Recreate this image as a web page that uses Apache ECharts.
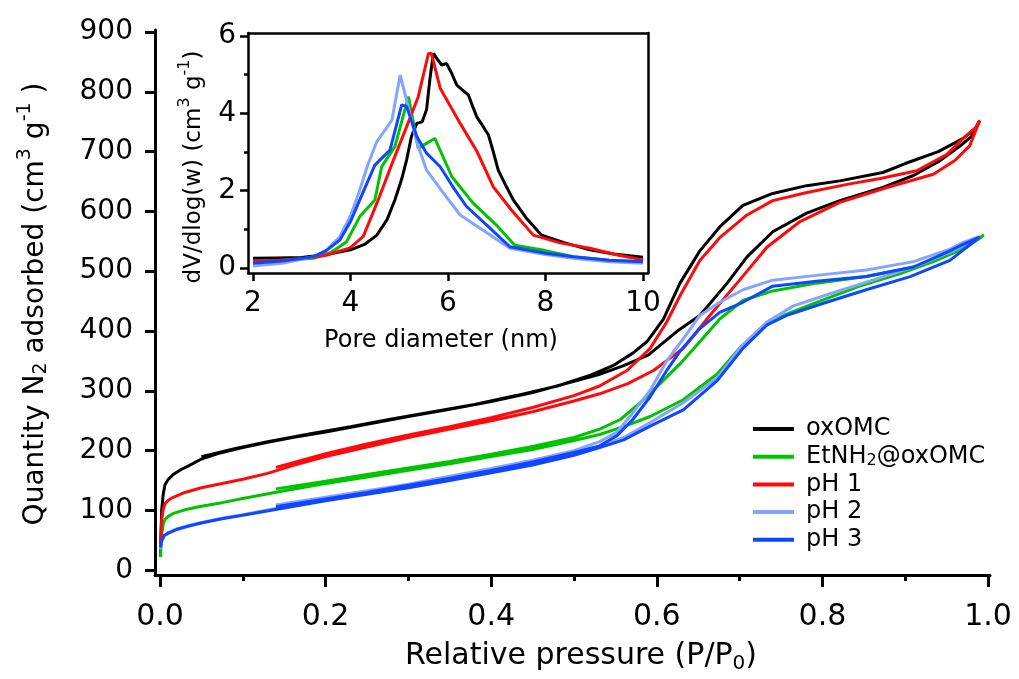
<!DOCTYPE html>
<html>
<head>
<meta charset="utf-8">
<script src="https://cdn.jsdelivr.net/npm/echarts@6/dist/echarts.min.js"></script>
<style>
  html, body { margin: 0; padding: 0; background: #fff; }
  #chart { width: 1019px; height: 679px; }
</style>
</head>
<body>
<div id="chart"></div>
<script>
// N2 sorption isotherms: adsorption branch followed by desorption branch, [P/P0, cm3 g-1]
const isoOxOMC = [
  [0.0005, 24], [0.002, 100], [0.004, 128], [0.006, 143], [0.01, 152], [0.016, 160], [0.025, 168],
  [0.035, 175], [0.05, 186], [0.07, 195], [0.1, 205], [0.13, 214], [0.16, 222], [0.2, 231], [0.25, 244],
  [0.3, 257], [0.35, 269], [0.4, 282], [0.45, 297], [0.5, 316], [0.53, 327], [0.56, 342], [0.59, 360],
  [0.624, 399], [0.652, 426], [0.685, 480], [0.709, 524], [0.74, 566], [0.781, 597], [0.821, 618],
  [0.873, 640], [0.91, 660], [0.94, 683], [0.965, 708], [0.98, 725], [0.99, 752],
  [0.985, 738], [0.97, 722], [0.94, 700], [0.9, 680], [0.873, 665], [0.821, 651], [0.781, 643],
  [0.74, 630], [0.704, 610], [0.676, 574], [0.652, 534], [0.628, 480], [0.608, 420], [0.588, 382],
  [0.571, 363], [0.547, 342], [0.52, 326], [0.48, 308], [0.43, 292], [0.38, 277], [0.33, 265],
  [0.28, 253], [0.23, 240], [0.18, 228], [0.13, 215], [0.09, 203], [0.05, 190]
];
const isoEtNH2 = [
  [0.0005, 22], [0.002, 60], [0.004, 78], [0.006, 85], [0.01, 90], [0.016, 95], [0.03, 101],
  [0.05, 107], [0.075, 113], [0.1, 120], [0.15, 133], [0.2, 145], [0.25, 156], [0.3, 167], [0.35, 178],
  [0.4, 190], [0.45, 202], [0.5, 217], [0.531, 227], [0.56, 240], [0.592, 257], [0.632, 285],
  [0.673, 328], [0.7, 371], [0.725, 404], [0.753, 426], [0.793, 448], [0.845, 475], [0.894, 496],
  [0.934, 516], [0.974, 540], [0.995, 560],
  [0.982, 550], [0.954, 529], [0.914, 508], [0.853, 491], [0.793, 480], [0.74, 467], [0.704, 451],
  [0.676, 420], [0.652, 382], [0.628, 345], [0.604, 312], [0.58, 280], [0.556, 252], [0.531, 236],
  [0.5, 222], [0.45, 207], [0.4, 194], [0.35, 182], [0.3, 171], [0.25, 160], [0.2, 149], [0.14, 136]
];
const isoPH1 = [
  [0.0005, 40], [0.002, 85], [0.004, 102], [0.006, 111], [0.01, 117], [0.016, 122], [0.03, 130],
  [0.05, 138], [0.075, 145], [0.1, 152], [0.13, 162], [0.16, 175], [0.2, 190], [0.25, 206], [0.3, 222],
  [0.35, 236], [0.4, 250], [0.45, 265], [0.5, 283], [0.531, 295], [0.565, 312], [0.596, 334],
  [0.632, 371], [0.664, 426], [0.7, 485], [0.733, 540], [0.773, 583], [0.821, 615], [0.878, 640],
  [0.934, 662], [0.96, 685], [0.978, 710], [0.99, 752],
  [0.985, 740], [0.97, 722], [0.95, 695], [0.914, 668], [0.87, 655], [0.833, 646], [0.78, 631],
  [0.74, 618], [0.709, 594], [0.676, 556], [0.652, 518], [0.628, 459], [0.612, 415], [0.592, 371],
  [0.564, 334], [0.531, 308], [0.5, 292], [0.45, 272], [0.4, 255], [0.35, 240], [0.3, 226],
  [0.25, 211], [0.2, 195], [0.14, 172]
];
const isoPH2 = [
  [0.0005, 35], [0.002, 48], [0.005, 57], [0.01, 63], [0.02, 69], [0.035, 75], [0.05, 80],
  [0.075, 87], [0.1, 93], [0.15, 106], [0.2, 118], [0.25, 129], [0.3, 140], [0.35, 152], [0.4, 165],
  [0.45, 178], [0.5, 194], [0.531, 207], [0.56, 222], [0.592, 247], [0.632, 280], [0.673, 322],
  [0.704, 377], [0.733, 415], [0.765, 442], [0.813, 464], [0.861, 485], [0.914, 509], [0.958, 534],
  [0.99, 558],
  [0.97, 548], [0.954, 537], [0.91, 516], [0.853, 502], [0.793, 493], [0.74, 485], [0.704, 469],
  [0.676, 448], [0.652, 426], [0.632, 387], [0.612, 350], [0.592, 301], [0.571, 263], [0.552, 231],
  [0.531, 215], [0.5, 200], [0.45, 184], [0.4, 170], [0.35, 157], [0.3, 144], [0.25, 133],
  [0.2, 122], [0.14, 109]
];
const isoPH3 = [
  [0.0005, 38], [0.002, 50], [0.005, 58], [0.01, 62], [0.02, 68], [0.035, 74], [0.05, 79],
  [0.075, 86], [0.1, 92], [0.15, 104], [0.2, 116], [0.25, 127], [0.3, 138], [0.35, 150], [0.4, 163],
  [0.45, 176], [0.5, 192], [0.531, 205], [0.56, 218], [0.592, 241], [0.632, 268], [0.673, 317],
  [0.704, 371], [0.733, 410], [0.757, 426], [0.805, 448], [0.853, 469], [0.906, 491], [0.954, 518],
  [0.99, 557],
  [0.97, 545], [0.954, 534], [0.91, 507], [0.853, 491], [0.793, 483], [0.74, 475], [0.704, 448],
  [0.676, 431], [0.652, 404], [0.628, 366], [0.612, 334], [0.592, 290], [0.571, 252], [0.552, 225],
  [0.531, 208], [0.5, 197], [0.45, 181], [0.4, 167], [0.35, 154], [0.3, 142], [0.25, 130],
  [0.2, 119], [0.14, 106]
];

// Pore size distributions, [pore diameter nm, dV/dlog(w)]
const psdOxOMC = [
  [2.0, 0.25], [2.5, 0.26], [3.0, 0.27], [3.5, 0.35], [4.0, 0.47], [4.3, 0.62], [4.54, 0.85],
  [4.75, 1.25], [4.91, 1.76], [5.05, 2.3], [5.15, 2.79], [5.25, 3.4], [5.36, 3.74], [5.47, 3.78],
  [5.56, 4.09], [5.63, 4.9], [5.7, 5.55], [5.78, 5.4], [5.87, 5.25], [5.97, 5.29], [6.07, 5.05],
  [6.18, 4.73], [6.3, 4.6], [6.42, 4.47], [6.5, 4.2], [6.59, 3.91], [6.7, 3.7], [6.83, 3.44],
  [6.93, 3.0], [7.03, 2.53], [7.2, 2.1], [7.34, 1.76], [7.6, 1.3], [7.92, 0.85], [8.4, 0.65],
  [8.91, 0.47], [9.4, 0.36], [10.0, 0.28]
];
const psdEtNH2 = [
  [2.0, 0.16], [2.6, 0.2], [3.24, 0.25], [3.6, 0.4], [3.92, 0.68], [4.19, 1.33], [4.5, 1.76],
  [4.64, 2.62], [4.91, 3.14], [5.19, 4.43], [5.39, 3.1], [5.73, 3.35], [6.08, 2.36], [6.52, 1.67],
  [7.0, 1.1], [7.37, 0.59], [8.0, 0.45], [8.57, 0.29], [9.3, 0.2], [10.0, 0.16]
];
const psdPH1 = [
  [2.0, 0.16], [2.5, 0.2], [3.1, 0.25], [3.5, 0.33], [3.99, 0.52], [4.26, 0.81], [4.54, 1.67],
  [4.88, 2.79], [5.15, 3.65], [5.39, 4.43], [5.6, 5.55], [5.66, 5.55], [5.84, 4.65], [6.25, 3.74],
  [6.6, 3.0], [6.93, 2.1], [7.3, 1.5], [7.75, 0.85], [8.3, 0.65], [8.91, 0.51], [9.5, 0.33],
  [10.0, 0.21]
];
const psdPH2 = [
  [2.0, 0.05], [2.6, 0.12], [3.24, 0.29], [3.5, 0.45], [3.78, 0.81], [4.0, 1.35], [4.19, 2.02],
  [4.35, 2.65], [4.54, 3.27], [4.7, 3.55], [4.85, 3.83], [5.02, 4.99], [5.15, 4.34], [5.35, 3.3],
  [5.56, 2.53], [5.9, 1.95], [6.25, 1.37], [6.75, 0.95], [7.27, 0.51], [8.0, 0.35], [8.57, 0.25],
  [9.3, 0.16], [10.0, 0.12]
];
const psdPH3 = [
  [2.0, 0.12], [2.6, 0.18], [3.24, 0.29], [3.5, 0.45], [3.78, 0.72], [4.0, 1.2], [4.19, 1.76],
  [4.5, 2.66], [4.81, 3.05], [5.05, 4.22], [5.15, 4.18], [5.36, 3.4], [5.56, 2.97], [5.84, 2.62],
  [6.1, 2.1], [6.38, 1.59], [6.8, 1.1], [7.27, 0.55], [8.0, 0.38], [8.57, 0.29], [9.3, 0.2],
  [10.0, 0.16]
];

const sampleNames = ['oxOMC', 'EtNH2@oxOMC', 'pH 1', 'pH 2', 'pH 3'];
const legendLabels = ['oxOMC', 'EtNH{sub|2}@oxOMC', 'pH 1', 'pH 2', 'pH 3'];
const isotherms = [isoOxOMC, isoEtNH2, isoPH1, isoPH2, isoPH3];
const distributions = [psdOxOMC, psdEtNH2, psdPH1, psdPH2, psdPH3];

const xTicks = [0, 0.2, 0.4, 0.6, 0.8, 1.0];
const xMinorTicks = [0.1, 0.3, 0.5, 0.7, 0.9];
const yTicks = [0, 100, 200, 300, 400, 500, 600, 700, 800, 900];
const insetXTicks = [2, 4, 6, 8, 10];
const insetYTicks = [0, 2, 4, 6];
const insetYMinorTicks = [1, 3, 5];

const colors = ['#000000', '#00c400', '#ff0a0a', '#85a4ff', '#0f46ff'];
const FONT = '"DejaVu Sans", "Liberation Sans", sans-serif';

const chart = echarts.init(document.getElementById('chart'), null, { renderer: 'canvas' });

const axisLineStyle = (w) => ({ show: true, onZero: false, lineStyle: { color: '#000', width: w } });
const noLine = { show: false, onZero: false };

const option = {
  backgroundColor: '#ffffff',
  animation: false,
  color: colors,
  grid: [
    // main isotherm frame (axes sit a few pixels outside the data range)
    { left: 155, top: 30, width: 835, height: 560 },
    // inset pore size distribution box
    { left: 248, top: 33, width: 400, height: 240 }
  ],
  xAxis: [
    {
      gridIndex: 0, type: 'value', position: 'bottom', min: -5 / 828, max: 1 + 2 / 828,
      axisLine: axisLineStyle(3),
      axisTick: { show: true, inside: false, length: 12, customValues: xTicks, lineStyle: { color: '#000', width: 3 } },
      axisLabel: {
        customValues: xTicks, formatter: (v) => v.toFixed(1), margin: 26,
        fontFamily: FONT, fontSize: 30, lineHeight: 32, color: '#000'
      },
      splitLine: { show: false },
      name: 'Relative pressure (P/P{sub|0})', nameLocation: 'middle', nameGap: 51,
      nameTextStyle: {
        fontFamily: FONT, fontSize: 30, lineHeight: 36, color: '#000', padding: [0, 0, 0, 17],
        rich: { sub: { fontFamily: FONT, fontSize: 20, lineHeight: 20, verticalAlign: 'bottom', color: '#000' } }
      }
    },
    {
      gridIndex: 0, type: 'value', position: 'bottom', min: -5 / 828, max: 1 + 2 / 828,
      axisLine: noLine,
      axisTick: { show: true, length: 6, customValues: xMinorTicks, lineStyle: { color: '#000', width: 3 } },
      axisLabel: { show: false },
      splitLine: { show: false }
    },
    {
      gridIndex: 1, type: 'value', position: 'bottom', min: 2 - 5 / 48.75, max: 10 + 5 / 48.75,
      axisLine: axisLineStyle(2.5),
      axisTick: { show: true, length: 8, customValues: insetXTicks, lineStyle: { color: '#000', width: 2.5 } },
      axisLabel: {
        customValues: insetXTicks, margin: 16, fontFamily: FONT, fontSize: 28, lineHeight: 30, color: '#000'
      },
      splitLine: { show: false },
      name: 'Pore diameter (nm)', nameLocation: 'middle', nameGap: 54,
      nameTextStyle: { fontFamily: FONT, fontSize: 24, lineHeight: 28, color: '#000', padding: [0, 14, 0, 0] }
    },
    {
      gridIndex: 1, type: 'value', position: 'top', min: 2 - 5 / 48.75, max: 10 + 5 / 48.75,
      axisLine: axisLineStyle(2.5), axisTick: { show: false }, axisLabel: { show: false },
      splitLine: { show: false }
    }
  ],
  yAxis: [
    {
      gridIndex: 0, type: 'value', position: 'left', min: -5 / (553 / 900), max: 900 + 2 / (553 / 900),
      axisLine: axisLineStyle(3),
      axisTick: { show: true, length: 10, customValues: yTicks, lineStyle: { color: '#000', width: 3 } },
      axisLabel: {
        customValues: yTicks, margin: 22, fontFamily: FONT, fontSize: 28, color: '#000'
      },
      splitLine: { show: false }
    },
    {
      gridIndex: 1, type: 'value', position: 'left', min: -5 / (232 / 6), max: 6 + 3 / (232 / 6),
      axisLine: axisLineStyle(2.5),
      axisTick: { show: true, length: 8, customValues: insetYTicks, lineStyle: { color: '#000', width: 2.5 } },
      axisLabel: {
        customValues: insetYTicks, margin: 12, fontFamily: FONT, fontSize: 28, color: '#000'
      },
      splitLine: { show: false }
    },
    {
      gridIndex: 1, type: 'value', position: 'left', min: -5 / (232 / 6), max: 6 + 3 / (232 / 6),
      axisLine: noLine,
      axisTick: { show: true, length: 4, customValues: insetYMinorTicks, lineStyle: { color: '#000', width: 2.5 } },
      axisLabel: { show: false },
      splitLine: { show: false }
    },
    {
      gridIndex: 1, type: 'value', position: 'right', min: -5 / (232 / 6), max: 6 + 3 / (232 / 6),
      axisLine: axisLineStyle(2.5), axisTick: { show: false }, axisLabel: { show: false },
      splitLine: { show: false }
    }
  ],
  legend: {
    data: sampleNames,
    orient: 'vertical',
    left: 748, top: 412,
    itemWidth: 41, itemHeight: 4, itemGap: 3.7,
    icon: 'rect',
    formatter: (name) => legendLabels[sampleNames.indexOf(name)],
    textStyle: {
      fontFamily: FONT, fontSize: 24, lineHeight: 24, color: '#000', padding: [0, 0, 0, 7],
      rich: { sub: { fontFamily: FONT, fontSize: 16, lineHeight: 16, verticalAlign: 'bottom', color: '#000' } }
    }
  },
  graphic: [
    {
      type: 'text', x: 36, y: 304, rotation: Math.PI / 2, silent: true,
      style: {
        text: 'Quantity N{sub|2} adsorbed (cm{sup|3} g{sup|-1} )',
        fontFamily: FONT, fontSize: 28, lineHeight: 40, fill: '#000',
        align: 'center', verticalAlign: 'middle',
        rich: {
          sub: { fontFamily: FONT, fontSize: 19, lineHeight: 19, verticalAlign: 'bottom', padding: [0, 0, 5, 0], fill: '#000' },
          sup: { fontFamily: FONT, fontSize: 19, lineHeight: 19, verticalAlign: 'top', fill: '#000' }
        }
      }
    },
    {
      type: 'text', x: 194, y: 167, rotation: Math.PI / 2, silent: true,
      style: {
        text: 'dV/dlog(w) (cm{sup|3} g{sup|-1})',
        fontFamily: FONT, fontSize: 23, lineHeight: 34, fill: '#000',
        align: 'center', verticalAlign: 'middle',
        rich: {
          sup: { fontFamily: FONT, fontSize: 16, lineHeight: 16, verticalAlign: 'top', fill: '#000' }
        }
      }
    }
  ],
  series: [
    ...isotherms.map((data, i) => ({
      name: sampleNames[i], type: 'line', xAxisIndex: 0, yAxisIndex: 0,
      data, showSymbol: false, symbol: 'none', smooth: false,
      lineStyle: { width: 3, color: colors[i] }, itemStyle: { color: colors[i] },
      emphasis: { disabled: true }
    })),
    ...distributions.map((data, i) => ({
      name: sampleNames[i], type: 'line', xAxisIndex: 2, yAxisIndex: 1,
      data, showSymbol: false, symbol: 'none', smooth: false,
      lineStyle: { width: 3, color: colors[i] }, itemStyle: { color: colors[i] },
      emphasis: { disabled: true }
    }))
  ]
};

chart.setOption(option);
</script>
</body>
</html>
